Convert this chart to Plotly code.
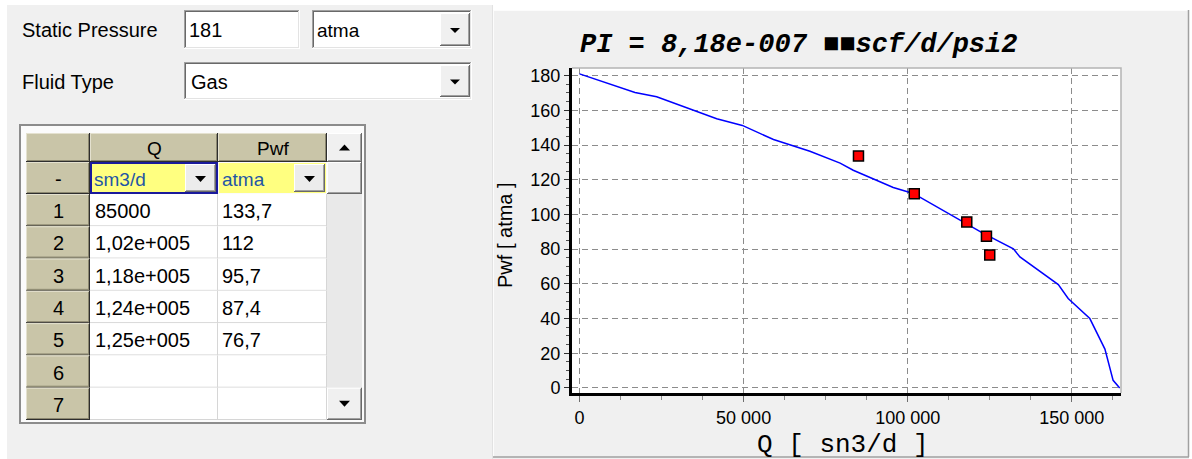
import plotly.graph_objects as go

# ---------------- data ----------------
static_pressure = "181"
pressure_unit = "atma"
fluid_type = "Gas"
rate_unit = "sm3/d"
pwf_unit = "atma"
column_headers = ["Q", "Pwf"]
row_labels = ["-", "1", "2", "3", "4", "5", "6", "7"]
pi_label = "PI = 8,18e-007 \u25a0\u25a0scf/d/psi2"
x_title = "Q [ sn3/d ]"
y_title = "Pwf [ atma ]"

# well test points (Q in sm3/d, Pwf in atma)
test_q = [85000, 102000, 118000, 124000, 125000]
test_pwf = [133.7, 112, 95.7, 87.4, 76.7]

# inflow performance curve
ipr_q = [0, 6250, 16900, 23500, 33700, 41800, 49600, 59100, 70200, 79400,
         83400, 95600, 101700, 116900, 122500, 132200, 134200, 145900,
         148900, 155500, 160100, 162600, 164600]
ipr_pwf = [181, 177.1, 170.3, 167.8, 161, 155.2, 151.3, 143.2, 136.4, 129.6,
           125.5, 115.5, 112.1, 95.4, 89.7, 80.2, 75.5, 59.6,
           51.6, 40, 22.4, 4.4, 0]

x_tickvals = [0, 50000, 100000, 150000]
y_tickvals = [0, 20, 40, 60, 80, 100, 120, 140, 160, 180]


def fmt_q(v):
    if v >= 1e5:
        mant, exp = f"{v:.2e}".split("e")
        return mant.replace(".", ",") + "e" + exp[0] + exp[1:].zfill(3)
    return str(int(v))


def fmt_p(v):
    return f"{v:g}".replace(".", ",")


# ---------------- pixel geometry helpers ----------------
W, H = 1192, 459
L, R, T, B = 572, 71, 68, 66
PW = W - L - R
PH = H - T - B


def fx(X):
    return (X - L) / PW


def fy(Y):
    return (H - B - Y) / PH


shapes = []
annotations = []

NONE = "rgba(0,0,0,0)"


def rect(x0, y0, x1, y1, fill=None, line=None, lw=1):
    shapes.append(dict(type="rect", xref="paper", yref="paper",
                       x0=fx(x0), x1=fx(x1), y0=fy(y1), y1=fy(y0),
                       fillcolor=fill or NONE,
                       line=dict(color=line or NONE, width=lw if line else 0)))


def seg(x0, y0, x1, y1, color, lw=1):
    shapes.append(dict(type="line", xref="paper", yref="paper",
                       x0=fx(x0), x1=fx(x1), y0=fy(y0), y1=fy(y1),
                       line=dict(color=color, width=lw)))


def tri(cx, cy, w=11, h=6, up=False, color="black"):
    if up:
        pts = [(cx - w / 2, cy + h / 2), (cx + w / 2, cy + h / 2), (cx, cy - h / 2)]
    else:
        pts = [(cx - w / 2, cy - h / 2), (cx + w / 2, cy - h / 2), (cx, cy + h / 2)]
    path = "M " + " L ".join(f"{fx(a):.5f},{fy(b):.5f}" for a, b in pts) + " Z"
    shapes.append(dict(type="path", xref="paper", yref="paper", path=path,
                       fillcolor=color, line=dict(color=color, width=0)))


def text(x, y, s, size=20, color="black", anchor="left", family="Liberation Sans", **kw):
    annotations.append(dict(x=fx(x), y=fy(y), xref="paper", yref="paper",
                            text=s, showarrow=False, xanchor=anchor, yanchor="middle",
                            font=dict(family=family, size=size, color=color, **kw),
                            borderpad=0))


def sunken(x0, y0, x1, y1, fill="white"):
    rect(x0, y0, x1, y1, fill=fill)
    seg(x0, y0 + 0.5, x1, y0 + 0.5, "#a0a0a0")
    seg(x0 + 0.5, y0, x0 + 0.5, y1, "#a0a0a0")
    seg(x0 + 1, y0 + 1.5, x1 - 1, y0 + 1.5, "#696969")
    seg(x0 + 1.5, y0 + 1, x0 + 1.5, y1 - 1, "#696969")
    seg(x0, y1 - 0.5, x1, y1 - 0.5, "#ffffff")
    seg(x1 - 0.5, y0, x1 - 0.5, y1, "#ffffff")
    seg(x0 + 1, y1 - 1.5, x1 - 1, y1 - 1.5, "#e3e3e3")
    seg(x1 - 1.5, y0 + 1, x1 - 1.5, y1 - 1, "#e3e3e3")


def raised(x0, y0, x1, y1, fill="#f0f0f0", hi="#ffffff", lo="#a0a0a0", dark="#696969"):
    rect(x0, y0, x1, y1, fill=fill)
    seg(x0, y0 + 0.5, x1, y0 + 0.5, hi)
    seg(x0 + 0.5, y0, x0 + 0.5, y1, hi)
    seg(x0, y1 - 0.5, x1, y1 - 0.5, dark)
    seg(x1 - 0.5, y0, x1 - 0.5, y1, dark)
    seg(x0 + 1, y1 - 1.5, x1 - 1, y1 - 1.5, lo)
    seg(x1 - 1.5, y0 + 1, x1 - 1.5, y1 - 1, lo)


def combo(x0, y0, x1, y1, label, tx, size=20):
    sunken(x0, y0, x1, y1)
    bx0, bx1 = x1 - 32, x1 - 2
    raised(bx0, y0 + 3, bx1, y1 - 3)
    tri((bx0 + bx1) / 2, (y0 + y1) / 2 + 1, w=10, h=5)
    text(tx, (y0 + y1) / 2 + 1, label, size=size)


# ---------------- window background ----------------
rect(0, 0, W, 5, fill="white")
rect(0, 0, 7, H, fill="white")
rect(493, 0, W, 10, fill="white")
rect(1189, 0, W, H, fill="white")
seg(493.5, 10, 493.5, 457, "#fcfcfc")
seg(493, 10.5, 1189, 10.5, "#fcfcfc")
seg(1188.5, 10, 1188.5, 457, "#a0a0a0", 1.5)
seg(493, 457, 1189, 457, "#a0a0a0", 1.5)
seg(492.5, 5, 492.5, H, "#e2e2e2")

# ---------------- input fields ----------------
text(21, 30, "Static Pressure", size=20)
sunken(184, 10, 300, 49)
text(188, 30, static_pressure, size=20)
combo(312, 10, 472, 49, pressure_unit, 316, size=19)

text(21, 82, "Fluid Type", size=20)
combo(184, 62, 472, 100, fluid_type, 190, size=20)

# ---------------- test data table ----------------
rect(20, 125, 365, 423, fill="#fbfbfb", line="#8c8c8c", lw=2)

col_x = [26, 90, 218, 327, 362]
row_h = (420 - 194) / 7
row_y = [133, 162, 194] + [194 + row_h * k for k in range(1, 8)]

TAN = "#c9c5a8"
# header row
for c in range(3):
    raised(col_x[c], row_y[0], col_x[c + 1], row_y[1], fill=TAN,
           hi="#e4e1cf", lo="#8c8870", dark="#2e2e2e")
for c, lab in enumerate(column_headers):
    text((col_x[c + 1] + col_x[c + 2]) / 2, (row_y[0] + row_y[1]) / 2 + 1, lab,
         size=19, anchor="center")

# row header column
for r in range(1, 9):
    raised(col_x[0], row_y[r], col_x[1], row_y[r + 1], fill=TAN,
           hi="#e4e1cf", lo="#8c8870", dark="#2e2e2e")
    text((col_x[0] + col_x[1]) / 2, (row_y[r] + row_y[r + 1]) / 2 + 1,
         row_labels[r - 1], size=20, anchor="center")

# data cells
for r in range(2, 9):
    for c in (1, 2):
        rect(col_x[c], row_y[r], col_x[c + 1], row_y[r + 1], fill="white")
        seg(col_x[c], row_y[r + 1] - 0.5, col_x[c + 1], row_y[r + 1] - 0.5, "#d6d6d6")
        seg(col_x[c + 1] - 0.5, row_y[r], col_x[c + 1] - 0.5, row_y[r + 1], "#d6d6d6")

for i, (q, p) in enumerate(zip(test_q, test_pwf)):
    yc = (row_y[2 + i] + row_y[3 + i]) / 2 + 1
    text(col_x[1] + 4, yc, fmt_q(q), size=20)
    text(col_x[2] + 3, yc, fmt_p(p), size=20)

# unit selectors
YEL = "#ffff80"
UNIT_BLUE = "#1f56a6"
for c, unit in ((1, rate_unit), (2, pwf_unit)):
    x0, x1 = col_x[c] + 1, col_x[c + 1] - 1
    y0, y1 = row_y[1] + 1, row_y[2] - 1
    rect(x0, y0, x1, y1, fill=YEL)
    raised(x1 - 32, y0 + 1, x1 - 1, y1 - 1, fill="#ececec")
    tri(x1 - 16.5, (y0 + y1) / 2 + 1, w=11, h=6)
    text(x0 + 2, (y0 + y1) / 2 + 1, unit, size=19, color=UNIT_BLUE)
rect(col_x[1] + 1, row_y[1] + 1, col_x[2] - 1, row_y[2] - 1, line="#1a1a9c", lw=2)

# scrollbar
rect(col_x[3], row_y[2], col_x[4], row_y[9], fill="#e9e9e9")
raised(col_x[3], row_y[0], col_x[4], row_y[1])
tri((col_x[3] + col_x[4]) / 2, (row_y[0] + row_y[1]) / 2, w=11, h=6, up=True)
raised(col_x[3], row_y[1], col_x[4], row_y[2])
raised(col_x[3], row_y[8], col_x[4], row_y[9])
tri((col_x[3] + col_x[4]) / 2, (row_y[8] + row_y[9]) / 2, w=11, h=6)

# ---------------- chart ----------------
# plot frame (top and right edges)
shapes.append(dict(type="path", xref="paper", yref="paper",
                   path="M 0,1 L 1,1 L 1,0", line=dict(color="#b4b4b4", width=1.5)))

text(798, 45, pi_label, size=27, family="Liberation Mono", anchor="center",
     weight="bold", style="italic")
text(843, 445, x_title, size=26, family="Liberation Mono", anchor="center")
annotations.append(dict(x=fx(505), y=fy(235), xref="paper", yref="paper",
                        text=y_title, showarrow=False, textangle=-90,
                        xanchor="center", yanchor="middle",
                        font=dict(family="Liberation Sans", size=20, color="black")))

fig = go.Figure()
fig.add_trace(go.Scatter(x=ipr_q, y=ipr_pwf, mode="lines",
                         line=dict(color="#0000ff", width=1.5),
                         hoverinfo="skip", showlegend=False))
fig.add_trace(go.Scatter(x=test_q, y=test_pwf, mode="markers",
                         marker=dict(symbol="square", size=10, color="#ff0000",
                                     line=dict(color="black", width=1.5)),
                         showlegend=False))

fig.update_layout(
    width=W, height=H,
    margin=dict(l=L, r=R, t=T, b=B, pad=0),
    paper_bgcolor="#f0f0f0",
    plot_bgcolor="white",
    separators=", ",
    shapes=shapes,
    annotations=annotations,
    showlegend=False,
    xaxis=dict(
        range=[-2300, 165000], autorange=False, automargin=False,
        tickvals=x_tickvals, tickformat=",d",
        showline=True, linecolor="black", linewidth=3, mirror=False,
        ticks="outside", ticklen=6, tickwidth=1, tickcolor="#6e6e6e",
        minor=dict(dtick=12500, tick0=0, ticks="outside", ticklen=4,
                   tickcolor="#8a8a8a", showgrid=False),
        showgrid=True, gridcolor="#8c8c8c", gridwidth=1, griddash="6px,4px",
        zeroline=False,
        tickfont=dict(family="Liberation Sans", size=18, color="black"),
    ),
    yaxis=dict(
        range=[-2.9, 184.4], autorange=False, automargin=False,
        tickvals=y_tickvals,
        showline=True, linecolor="black", linewidth=3, mirror=False,
        ticks="outside", ticklen=5, tickwidth=1, tickcolor="#303030",
        minor=dict(dtick=5, tick0=0, ticks="outside", ticklen=3,
                   tickcolor="#505050", showgrid=False),
        showgrid=True, gridcolor="#8c8c8c", gridwidth=1, griddash="6px,4px",
        zeroline=False,
        tickfont=dict(family="Liberation Sans", size=18, color="black"),
    ),
)

fig.write_html("out.html", config={"displayModeBar": False})
